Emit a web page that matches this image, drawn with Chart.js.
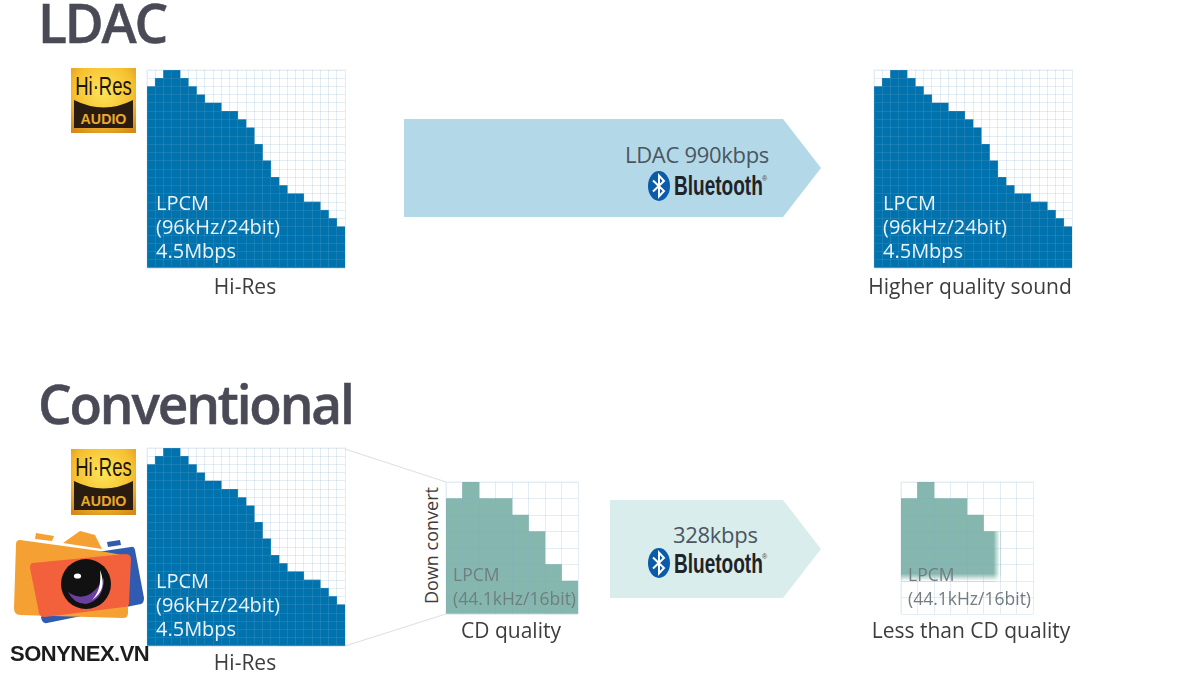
<!DOCTYPE html>
<html>
<head>
<meta charset="utf-8">
<title>LDAC vs Conventional</title>
<script src="https://cdn.jsdelivr.net/npm/chart.js@4/dist/chart.umd.min.js"></script>
<style>
  html, body { margin: 0; padding: 0; background: #fff; }
  #page { position: relative; width: 1200px; height: 676px; overflow: hidden; font-family: "Open Sans", sans-serif; color: #3a3a3a; }
  #page canvas, #page svg, .t, .arrow { position: absolute; }
  .t { white-space: nowrap; line-height: 1; }
  .head { font-weight: 600; color: #494a56; letter-spacing: -2.2px; font-size: 54px; line-height: 40px; transform-origin: left top; transform: scaleX(.985); -webkit-text-stroke: .5px #494a56; }
  .lpcm { color: #eaf3f8; font-size: 20px; line-height: 24px; white-space: pre; }
  .cd { color: #6d7f7e; font-size: 17.5px; line-height: 24px; white-space: pre; }
  .label { font-size: 21px; transform: translateX(-50%); color: #3d3d3d; }
  .kbps { font-size: 22px; color: #4b5560; letter-spacing: -.3px; }
  .bt { font-family: "Liberation Sans", sans-serif; font-weight: 700; color: #1f2328; font-size: 28px; transform-origin: left top; transform: scaleX(.68); }
  .reg { font-family: "Liberation Sans", sans-serif; font-size: 7px; color: #444; }
  .arrow { clip-path: polygon(0 0, calc(100% - 38px) 0, 100% 50%, calc(100% - 38px) 100%, 0 100%); }
</style>
</head>
<body>
<div id="page">
  <svg id="zoomlines" width="1200" height="676" style="left:0;top:0">
    <line x1="345" y1="449" x2="446" y2="482" stroke="#dfe1e2" stroke-width="1.3"/>
    <line x1="345" y1="646" x2="446" y2="614" stroke="#dfe1e2" stroke-width="1.3"/>
  </svg>

  <div class="t head" style="left:38px;top:2px">LDAC</div>
  <div class="t head" style="left:38px;top:383px">Conventional</div>

  <canvas id="ldacSource" width="200" height="200" style="left:146px;top:69px"></canvas>
  <canvas id="ldacResult" width="200" height="200" style="left:873px;top:69px"></canvas>
  <canvas id="convSource" width="200" height="200" style="left:146px;top:447px"></canvas>
  <canvas id="cdChart" width="134" height="134" style="left:445px;top:481px"></canvas>
  <canvas id="lessChart" width="134" height="134" style="left:900px;top:481px"></canvas>

  <div class="t lpcm" style="left:156px;top:191px">LPCM
(96kHz/24bit)
4.5Mbps</div>
  <div class="t lpcm" style="left:883px;top:191px">LPCM
(96kHz/24bit)
4.5Mbps</div>
  <div class="t lpcm" style="left:156px;top:569px">LPCM
(96kHz/24bit)
4.5Mbps</div>
  <div class="t cd" style="left:453px;top:562px">LPCM
(44.1kHz/16bit)</div>
  <div class="t cd" style="left:908px;top:562px;color:#717c80">LPCM
(44.1kHz/16bit)</div>

  <div class="t label" style="left:245px;top:276px">Hi-Res</div>
  <div class="t label" style="left:970px;top:276px">Higher quality sound</div>
  <div class="t label" style="left:245px;top:652px">Hi-Res</div>
  <div class="t label" style="left:511px;top:620px">CD quality</div>
  <div class="t label" style="left:971px;top:620px">Less than CD quality</div>
  <div class="t" style="left:422px;top:604px;font-size:18px;transform-origin:left top;transform:rotate(-90deg);color:#3d3d3d">Down convert</div>

  <div class="arrow" style="left:404px;top:119px;width:417px;height:98px;background:#b3d9e8"></div>
  <div class="arrow" style="left:610px;top:500px;width:211px;height:98px;background:#d9eded"></div>

  <div class="t kbps" style="left:625px;top:143px">LDAC 990kbps</div>
  <div class="t kbps" style="left:673px;top:523px">328kbps</div>

  <svg width="24" height="30" viewBox="0 0 24 30" style="left:647px;top:171px">
    <ellipse cx="12" cy="15" rx="11" ry="15" fill="#0a5ca8"/>
    <path d="M6 9.5 L17 20 L12 25.5 L12 4.5 L17 10 L6 20.5" fill="none" stroke="#fff" stroke-width="2"/>
  </svg>
  <div class="t bt" style="left:674px;top:172px">Bluetooth</div>
  <div class="t reg" style="left:762px;top:175px">®</div>
  <svg width="24" height="30" viewBox="0 0 24 30" style="left:647px;top:548px">
    <ellipse cx="12" cy="15" rx="11" ry="15" fill="#0a5ca8"/>
    <path d="M6 9.5 L17 20 L12 25.5 L12 4.5 L17 10 L6 20.5" fill="none" stroke="#fff" stroke-width="2"/>
  </svg>
  <div class="t bt" style="left:674px;top:550px">Bluetooth</div>
  <div class="t reg" style="left:762px;top:553px">®</div>

  <!-- hi-res badges -->
  <svg width="66" height="66" viewBox="0 0 66 66" style="left:71px;top:68px">
    <defs><radialGradient id="gold" cx="0.5" cy="0.35" r="0.75"><stop offset="0" stop-color="#fde65a"/><stop offset=".6" stop-color="#f6c02f"/><stop offset="1" stop-color="#d68a1c"/></radialGradient></defs>
    <rect width="65" height="65" fill="url(#gold)"/>
    <path d="M3 32 Q33 47 62 32 V60 H3 Z" fill="#2a1c10"/>
    <text transform="translate(32.5,27) scale(.74,1)" text-anchor="middle" font-family="Liberation Sans" font-size="25" fill="#1e1408">Hi·Res</text>
    <text transform="translate(32.5,56) scale(.95,1)" text-anchor="middle" font-family="Liberation Sans" font-weight="700" font-size="15" fill="#e9a92f">AUDIO</text>
  </svg>
  <svg width="66" height="67" viewBox="0 0 66 67" style="left:71px;top:449px">
    <rect width="65" height="66" fill="url(#gold)"/>
    <path d="M3 32 Q33 47 62 32 V61 H3 Z" fill="#2a1c10"/>
    <text transform="translate(32.5,27) scale(.74,1)" text-anchor="middle" font-family="Liberation Sans" font-size="25" fill="#1e1408">Hi·Res</text>
    <text transform="translate(32.5,57) scale(.95,1)" text-anchor="middle" font-family="Liberation Sans" font-weight="700" font-size="15" fill="#e9a92f">AUDIO</text>
  </svg>

  <!-- watermark -->
  <svg width="160" height="110" viewBox="0 520 160 110" style="left:0;top:520px">
    <path d="M36 533 L54 536 L52 541 L35 539 Z" fill="#f5a033"/>
    <path d="M63 543 L80 531 L95 535 L102 549 Z" fill="#f5a033"/>
    <path d="M107 542 L120 540 L121 545 L108 547 Z" fill="#2f5bb0"/>
    <path d="M97 552 L131 547 Q134 546 135 550 L144 598 Q144 603 141 604 L47 623 Q42 624 41 617 Z" fill="#2f5bb0"/>
    <path d="M20 540 L100 551 L128 556 L128 613 Q128 618 123 618 L20 615 Q14 615 14 608 L16 544 Q16 540 20 540 Z" fill="#f5a033"/>
    <path d="M33 563 L125 554 Q131 554 131 559 L129 603 Q129 607 124 607 L45 617 Q40 617 39 613 L30 568 Q30 563 33 563 Z" fill="#f2603c"/>
    <circle cx="86" cy="584" r="25" fill="#111"/>
    <path d="M68 592 Q88 606 104 578 Q104 600 86 604 Q74 604 68 592 Z" fill="#6a3fa0"/>
    <path d="M100 570 Q108 590 92 600 Q102 590 100 570 Z" fill="#fff"/>
    <ellipse cx="77.5" cy="576" rx="3.6" ry="2.6" fill="#fff"/>
  </svg>
  <div class="t" style="left:10px;top:643px;font-family:'Liberation Sans';font-weight:700;font-size:22px;letter-spacing:-.5px;color:#1c1c1c">SONYNEX.VN</div>
</div>

<script>
// column heights, counted in grid rows
const hiResBands = ['1','2','3','4','5','6','7','8','9','10','11','12','13','14','15','16','17','18','19','20','21','22','23','24'];
const hiResLevels = [22,23,24,24,23,22,21,20,20,19,19,18,17,15,13,11,10,9,9,8,8,7,6,5];
const cdBands = ['1','2','3','4','5','6','7','8'];
const cdLevels = [7,8,7,7,6,5,3,2];
const lessLevels = [7,8,7,7,6,5,0,0];
const lessFloor = 2; // everything below this row got cut off

const BLUE = '#0073ae';
const TEAL = '#86b7af';

// lossy chart: fade out the bottom and right edge of the bars, grid is drawn after this
const fadePlugin = {
  id: 'fadeEdges',
  afterDatasetsDraw(chart) {
    const opts = chart.config.options.plugins.fadeEdges;
    if (!opts || !opts.on) return;
    const { ctx, chartArea, scales } = chart;
    const y0 = scales.y.getPixelForValue(lessFloor);
    const rowH = chartArea.height / 8;
    const colW = chartArea.width / 8;
    const xEnd = chartArea.left + colW * 6;
    ctx.save();
    ctx.globalCompositeOperation = 'destination-out';
    let g = ctx.createLinearGradient(0, y0 - rowH * 0.45, 0, y0);
    g.addColorStop(0, 'rgba(0,0,0,0)');
    g.addColorStop(1, 'rgba(0,0,0,1)');
    ctx.fillStyle = g;
    ctx.fillRect(chartArea.left, y0 - rowH * 0.45, chartArea.width, rowH * 0.45);
    g = ctx.createLinearGradient(xEnd - colW * 0.4, 0, xEnd, 0);
    g.addColorStop(0, 'rgba(0,0,0,0)');
    g.addColorStop(1, 'rgba(0,0,0,1)');
    ctx.fillStyle = g;
    ctx.fillRect(xEnd - colW * 0.4, chartArea.top, colW * 0.4, chartArea.height);
    ctx.restore();
  }
};

function stairChart(id, bands, data, rows, color, fade) {
  const gridColor = 'rgba(120,165,195,0.2)';
  new Chart(document.getElementById(id), {
    type: 'bar',
    data: {
      labels: bands,
      datasets: [{ data: data, backgroundColor: color, borderWidth: 0, barPercentage: 1, categoryPercentage: 1 }]
    },
    options: {
      responsive: false,
      animation: false,
      layout: { padding: 1 },
      plugins: { legend: { display: false }, tooltip: { enabled: false }, fadeEdges: { on: fade } },
      scales: {
        x: {
          ticks: { display: false, autoSkip: false },
          grid: { color: gridColor, z: 1, drawTicks: false },
          border: { color: gridColor }
        },
        y: {
          min: 0, max: rows,
          afterBuildTicks: axis => { axis.ticks = []; for (let i = 0; i <= rows; i++) axis.ticks.push({ value: i }); },
          ticks: { display: false },
          grid: { color: gridColor, z: 1, drawTicks: false },
          border: { color: gridColor }
        }
      }
    },
    plugins: [fadePlugin]
  });
}

stairChart('ldacSource', hiResBands, hiResLevels, 24, BLUE, false);
stairChart('ldacResult', hiResBands, hiResLevels, 24, BLUE, false);
stairChart('convSource', hiResBands, hiResLevels, 24, BLUE, false);
stairChart('cdChart', cdBands, cdLevels, 8, TEAL, false);
stairChart('lessChart', cdBands, lessLevels.map(v => v > 0 ? [lessFloor, v] : null), 8, TEAL, true);
</script>
</body>
</html>
